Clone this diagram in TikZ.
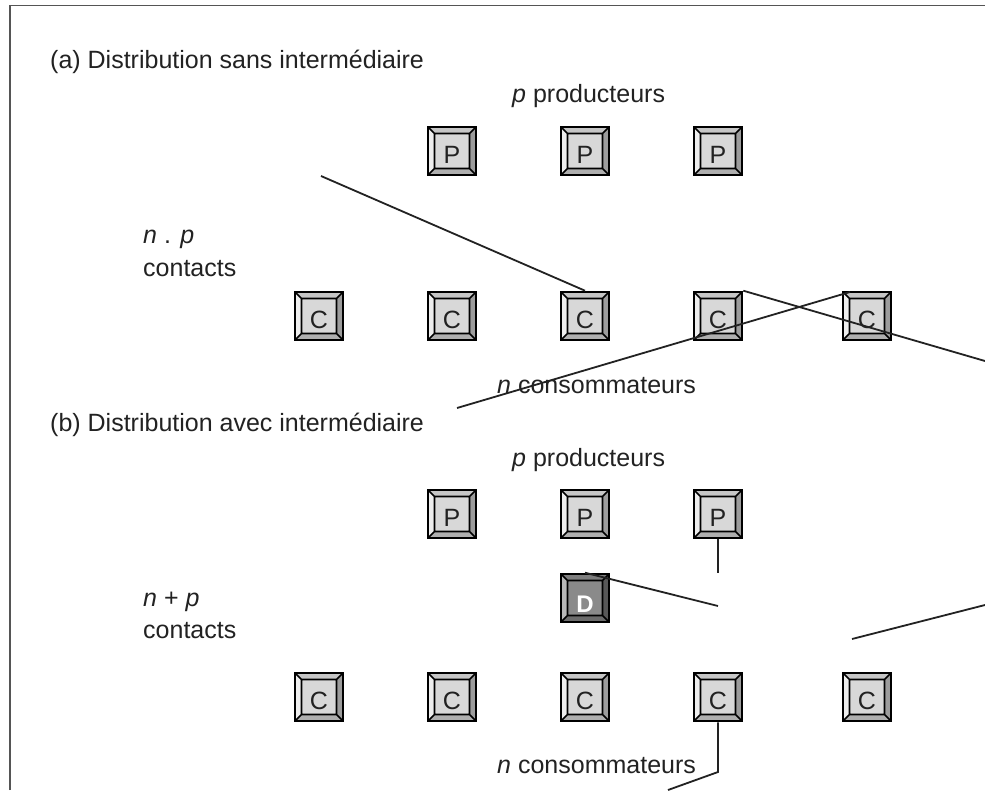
\documentclass[tikz,border=0pt]{standalone}
\usepackage{fontspec}
\setmainfont{Liberation Sans}
\definecolor{kface}{HTML}{D8D8D8}
\definecolor{ktop}{HTML}{C6C6C6}
\definecolor{kleft}{HTML}{EEEEEE}
\definecolor{kright}{HTML}{9C9C9C}
\definecolor{kbot}{HTML}{AFAFAF}
\definecolor{dface}{HTML}{8A8A8A}
\definecolor{dtop}{HTML}{7E7E7E}
\definecolor{dleft}{HTML}{B8B8B8}
\definecolor{dright}{HTML}{585858}
\definecolor{dbot}{HTML}{6C6C6C}
\definecolor{ink}{HTML}{222222}
\definecolor{framec}{HTML}{555555}
\newcommand\kbevel[4]{%
  \path (path picture bounding box.north west) coordinate (bNW)
        (path picture bounding box.north east) coordinate (bNE)
        (path picture bounding box.south west) coordinate (bSW)
        (path picture bounding box.south east) coordinate (bSE);
  \path (bNW) ++(6.5pt,-6.5pt) coordinate (iNW)
        (bNE) ++(-6.5pt,-6.5pt) coordinate (iNE)
        (bSW) ++(6.5pt,6.5pt) coordinate (iSW)
        (bSE) ++(-6.5pt,6.5pt) coordinate (iSE);
  \fill[#1] (bNW) -- (bNE) -- (iNE) -- (iNW) -- cycle;
  \fill[#2] (bNW) -- (bSW) -- (iSW) -- (iNW) -- cycle;
  \fill[#3] (bNE) -- (bSE) -- (iSE) -- (iNE) -- cycle;
  \fill[#4] (bSW) -- (bSE) -- (iSE) -- (iSW) -- cycle;
  \draw[black, line width=1.7pt] (iNW) rectangle (iSE)
        (bNW) -- (iNW) (bNE) -- (iNE) (bSW) -- (iSW) (bSE) -- (iSE);
}
\tikzset{
  txt/.style={anchor=base west, inner sep=0pt, text=ink, font=\fontsize{25}{30}\selectfont},
  keybase/.style={minimum size=48pt, inner sep=0pt, draw=black, line width=2.6pt,
    text height=25pt, text depth=0pt},
  keyc/.style={keybase, fill=kface, text=ink, font=\fontsize{25}{30}\selectfont,
    path picture={\kbevel{ktop}{kleft}{kright}{kbot}}},
  keyd/.style={keybase, fill=dface, text=white, font=\fontsize{24}{30}\selectfont\bfseries,
    text height=28pt, path picture={\kbevel{dtop}{dleft}{dright}{dbot}}},
  conn/.style={draw=ink, line width=1.8pt},
}
\begin{document}
\begin{tikzpicture}[x=1pt, y=-1pt]
\useasboundingbox (0,0) rectangle (985,790);
\fill[white] (0,0) rectangle (985,790);
\draw[framec, line width=1.4pt] (10,790) -- (10,5.5) -- (985,5.5);

% (a)
\node[txt] (ta) at (50,68) {(a) Distribution sans intermédiaire};
\node[txt] (ppa) at (512,102) {\textit{p} producteurs};
\node[txt] (npa) at (143,243) {\textit{n} . \textit{p}};
\node[txt] (cta) at (143,276) {contacts};
\node[txt] (nca) at (497,393) {\textit{n} consommateurs};

\node[keyc] (p1a) at (452,151) {P};
\node[keyc] (p2a) at (585,151) {P};
\node[keyc] (p3a) at (718,151) {P};
\node[keyc] (c1a) at (319,316) {C};
\node[keyc] (c2a) at (452,316) {C};
\node[keyc] (c3a) at (585,316) {C};
\node[keyc] (c4a) at (718,316) {C};
\node[keyc] (c5a) at (867,316) {C};

% (b)
\node[txt] (tb) at (50,431) {(b) Distribution avec intermédiaire};
\node[txt] (ppb) at (512,466) {\textit{p} producteurs};
\node[txt] (npb) at (143,606) {\textit{n} + \textit{p}};
\node[txt] (ctb) at (143,638) {contacts};
\node[txt] (ncb) at (497,773) {\textit{n} consommateurs};

\node[keyc] (p1b) at (452,514) {P};
\node[keyc] (p2b) at (585,514) {P};
\node[keyc] (p3b) at (718,514) {P};
\node[keyd] (d) at (585,598) {D};
\node[keyc] (c1b) at (319,697) {C};
\node[keyc] (c2b) at (452,697) {C};
\node[keyc] (c3b) at (585,697) {C};
\node[keyc] (c4b) at (718,697) {C};
\node[keyc] (c5b) at (867,697) {C};

% connectors
\coordinate (a1) at (321,176);
\coordinate (a2) at (985,361);
\coordinate (a3) at (457,408);
\coordinate (a5) at (850,292);
\coordinate (b1) at (718,573);
\coordinate (b2) at (718,606);
\coordinate (b3) at (852,639);
\coordinate (b4) at (985,605);
\coordinate (b5) at (718,772);
\coordinate (b6) at (668,790);

\draw[conn] (a1) -- (c3a.north);
\draw[conn] (c4a.north east) -- (a2);
\draw[conn] (a3) -- (a5);
\draw[conn] (p3b.south) -- (b1);
\draw[conn] (d.north) -- (b2);
\draw[conn] (b3) -- (b4);
\draw[conn] (c4b.south) -- (b5) -- (b6);
\end{tikzpicture}
\end{document}
